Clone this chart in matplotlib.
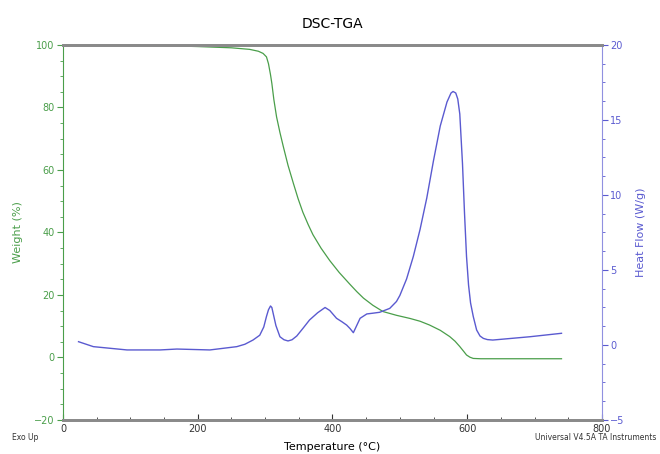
import matplotlib.pyplot as plt
from matplotlib.ticker import MultipleLocator

# TGA: temperature (°C) and weight (%)
t_tga = [25, 100, 150, 200, 250, 277, 290, 297, 302, 305, 308, 310, 313, 317, 322, 327,
         334, 342, 349, 356, 364, 371, 383, 396, 410, 426, 436, 446, 460, 475, 495,
         515, 530, 544, 560, 574, 582, 589, 595, 599, 604, 609, 620, 650, 700, 740]
weight = [100.0, 99.9, 99.8, 99.5, 99.1, 98.6, 98.0, 97.3, 96.2, 94.0, 90.5, 87.7, 82.5,
          77.0, 72.0, 67.5, 61.5, 55.7, 50.8, 46.5, 42.5, 39.3, 35.0, 31.0, 27.2, 23.4,
          21.1, 19.0, 16.7, 14.7, 13.5, 12.5, 11.6, 10.4, 8.7, 6.7, 5.2, 3.5, 1.9, 0.8,
          0.1, -0.3, -0.4, -0.4, -0.4, -0.4]

# DSC: temperature (°C) and heat flow (W/g)
t_dsc = [23, 45, 95, 144, 169, 218, 258, 270, 282, 292, 298, 302, 305, 308, 310, 312,
         316, 322, 328, 334, 340, 347, 356, 366, 378, 389, 396, 406, 414, 421, 426, 431,
         436, 441, 451, 460, 470, 485, 495, 500, 510, 520, 530, 540, 550, 560, 570,
         576, 579, 583, 586, 589, 593, 596, 599, 602, 605, 609, 614, 619, 624, 630,
         638, 693, 740]
heat_flow = [0.22, -0.11, -0.33, -0.33, -0.27, -0.33, -0.11, 0.05, 0.33, 0.65, 1.2, 1.9,
             2.35, 2.6, 2.5, 2.1, 1.3, 0.55, 0.35, 0.27, 0.35, 0.6, 1.1, 1.67, 2.15, 2.5,
             2.3, 1.78, 1.55, 1.33, 1.1, 0.82, 1.3, 1.78, 2.07, 2.12, 2.18, 2.44, 2.9,
             3.3, 4.4, 5.9, 7.7, 9.8, 12.3, 14.6, 16.2, 16.8, 16.9, 16.8, 16.4, 15.4,
             12.1, 8.8, 5.9, 4.0, 2.8, 1.9, 1.0, 0.6, 0.44, 0.36, 0.33, 0.55, 0.78]

green = '#4a9e4a'
blue = '#5a5ad0'
gray = '#8a8a8a'

fig = plt.figure(figsize=(6.6, 4.54), dpi=100)
ax = fig.add_axes([0.0955, 0.0749, 0.8165, 0.826])
ax2 = ax.twinx()

ax.plot(t_tga, weight, color=green, lw=0.9)
ax2.plot(t_dsc, heat_flow, color=blue, lw=1.0)

ax.set_xlim(0, 800)
ax.set_ylim(-20, 100)
ax2.set_ylim(-5, 20)

ax.xaxis.set_major_locator(MultipleLocator(200))
ax.xaxis.set_minor_locator(MultipleLocator(50))
ax.yaxis.set_major_locator(MultipleLocator(20))
ax.yaxis.set_minor_locator(MultipleLocator(5))
ax2.yaxis.set_major_locator(MultipleLocator(5))
ax2.yaxis.set_minor_locator(MultipleLocator(1.25))

for a in (ax, ax2):
    a.spines['top'].set_color(gray)
    a.spines['top'].set_linewidth(2)
    a.spines['bottom'].set_color(gray)
    a.spines['bottom'].set_linewidth(2)
ax.spines['left'].set_color(green)
ax2.spines['left'].set_visible(False)
ax.spines['right'].set_visible(False)
ax2.spines['right'].set_color('#9090e0')

ax.tick_params(axis='x', direction='in', length=4, labelsize=7, colors='#333333', pad=3)
ax.tick_params(axis='x', which='minor', direction='in', length=2, colors='#333333')
ax.tick_params(axis='y', length=4, labelsize=7, colors=green, pad=2)
ax.tick_params(axis='y', which='minor', length=2, colors=green)
ax2.tick_params(axis='y', length=4, labelsize=7, colors=blue, pad=2)
ax2.tick_params(axis='y', which='minor', length=2, colors=blue)

ax.set_ylabel('Weight (%)', color=green, fontsize=8, labelpad=8)
ax2.set_ylabel('Heat Flow (W/g)', color=blue, fontsize=8, labelpad=8)
ax.set_xlabel('Temperature (°C)', fontsize=8, labelpad=6)
ax.set_title('DSC-TGA', fontsize=10, pad=12)

fig.text(0.018, 0.03, 'Exo Up', fontsize=5.5, color='#333333')
fig.text(0.995, 0.03, 'Universal V4.5A TA Instruments', fontsize=5.5, color='#333333', ha='right')

fig.savefig('out.png', dpi=100)
